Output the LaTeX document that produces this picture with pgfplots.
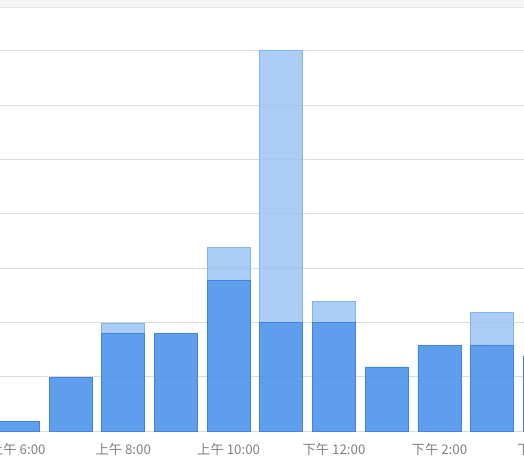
\documentclass[border=0pt]{standalone}
\usepackage{fontspec}
\setmainfont{Noto Sans CJK SC}
\usepackage{pgfplots}
\pgfplotsset{compat=1.18}

\definecolor{darkbar}{RGB}{73,145,234}
\definecolor{darkedge}{RGB}{62,132,226}
\definecolor{lightbar}{RGB}{158,197,244}
\definecolor{lightedge}{RGB}{130,180,240}
\definecolor{gridgray}{RGB}{220,220,222}
\definecolor{labelgray}{RGB}{128,128,128}

% base time (dark) and extra time (light), one row per hour from 6:00
\pgfplotstableread{
x  base  extra
0  1.8   0
1  9.8   0
2  17.9  2.0
3  17.9  0
4  27.8  6.0
5  20.0  50.0
6  20.0  3.8
7  11.8  0
8  15.8  0
9  15.8  6.0
10 13.8  0
}\hourdata

\begin{document}
\begin{tikzpicture}
\useasboundingbox (0,0) rectangle (524pt,461pt);
\clip (0,0) rectangle (524pt,461pt);
% top strip of the screenshot
\fill[black!4] (0,453pt) rectangle (524pt,461pt);
\draw[black!10, line width=1pt] (0,453pt) -- (524pt,453pt);
\begin{axis}[
  at={(0pt,30pt)}, anchor=south west,
  scale only axis,
  width=524pt, height=423pt,
  xmin=-0.338, xmax=9.605,
  ymin=0, ymax=77.9,
  ybar stacked, bar width=0.816,
  axis line style={draw=none},
  ytick={0,10,...,70}, yticklabels={},
  ymajorgrids, grid style={gridgray, line width=1pt},
  xtick={0,2,4,6,8},
  xticklabels={上午 6:00,上午 8:00,上午 10:00,下午 12:00,下午 2:00},
  major tick length=0pt,
  xticklabel style={font=\fontsize{13.3pt}{15pt}\selectfont, text=labelgray, yshift=-8.5pt},
  clip=false,
]
\addplot[fill=darkbar, fill opacity=0.88, draw=darkedge, line width=0.8pt]
  table[x=x, y=base] {\hourdata};
\addplot[fill=lightbar, fill opacity=0.88, draw=lightedge, line width=0.8pt]
  table[x=x, y=extra] {\hourdata};
% label of the 4 PM bar, which lies past the right edge
\node[anchor=north, font=\fontsize{13.3pt}{15pt}\selectfont, text=labelgray, yshift=-8.5pt]
  at (axis cs:10,0) {下午 4:00};
\end{axis}
\end{tikzpicture}
\end{document}
